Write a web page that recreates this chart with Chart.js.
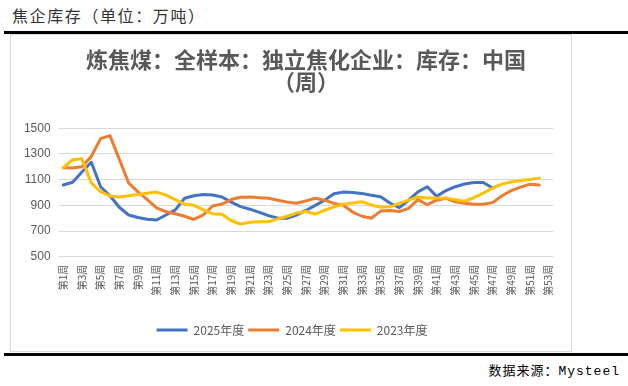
<!DOCTYPE html>
<html><head><meta charset="utf-8">
<script src="https://cdn.jsdelivr.net/npm/chart.js@4.4.1/dist/chart.umd.min.js"></script>
<style>
html,body{margin:0;padding:0;background:#fff;}
body{width:628px;height:386px;position:relative;overflow:hidden;font-family:"Noto Sans CJK SC",sans-serif;}
#hdr{position:absolute;left:12px;top:3px;font-size:16px;letter-spacing:1.6px;color:#333;line-height:24px;}
.rule{position:absolute;left:4px;right:0;height:3px;background:#000;}
#box{position:absolute;left:10px;top:34px;width:560px;height:316px;border:1px solid #d9d9d9;}
#wrap{position:absolute;left:10px;top:34px;width:562px;height:318px;}
#src{position:absolute;right:8px;top:362px;font-size:13px;letter-spacing:1px;color:#000;font-family:"Liberation Mono","Noto Sans CJK SC",monospace;line-height:20px;}
</style></head>
<body>
<div id="hdr">焦企库存（单位：万吨）</div>
<div class="rule" style="top:31px"></div>
<div id="box"></div>
<div id="wrap"><canvas id="c" width="562" height="318"></canvas></div>
<div class="rule" style="top:353px"></div>
<div id="src">数据来源：Mysteel</div>
<script>
const weeks = ["第1周","第2周","第3周","第4周","第5周","第6周","第7周","第8周","第9周","第10周",
"第11周","第12周","第13周","第14周","第15周","第16周","第17周","第18周","第19周","第20周",
"第21周","第22周","第23周","第24周","第25周","第26周","第27周","第28周","第29周","第30周",
"第31周","第32周","第33周","第34周","第35周","第36周","第37周","第38周","第39周","第40周",
"第41周","第42周","第43周","第44周","第45周","第46周","第47周","第48周","第49周","第50周",
"第51周","第52周","第53周"];
const seriesNames = ["2025年度","2024年度","2023年度"];
const y2025 = [1058,1080,1160,1235,1045,975,885,825,805,792,
786,825,865,955,975,985,980,965,925,890,
870,845,820,800,800,825,860,900,940,990,
1003,1000,993,978,967,918,882,940,1005,1045,
970,1015,1045,1066,1078,1078,1035];
const y2024 = [1193,1190,1200,1280,1420,1443,1260,1075,1005,945,
880,850,835,815,790,825,895,910,945,963,
965,960,955,940,925,916,935,955,940,915,
900,848,815,800,855,860,852,876,945,905,
940,955,928,916,908,908,921,975,1015,1042,
1065,1058];
const y2023 = [1193,1255,1262,1075,1006,973,965,975,985,995,
1003,980,945,910,900,865,835,830,780,755,
768,773,773,795,815,840,852,832,862,888,
908,918,928,903,885,889,915,940,965,958,
958,958,943,932,960,995,1035,1065,1082,1093,
1102,1112];
const yTicks = [500,700,900,1100,1300,1500];
const colors = ["#4472C4","#ED7D31","#FFC000"];
const fam = '"Noto Sans CJK SC","Noto Sans",sans-serif';

const mk = (i, data, order) => ({
  label: seriesNames[i], data, borderColor: colors[i], backgroundColor: colors[i],
  borderWidth: 3, pointRadius: 0, tension: 0, order,
  borderJoinStyle: 'round', borderCapStyle: 'round', fill: false
});

const shiftLegend = {
  id: 'shiftLegend',
  afterLayout(chart) {
    const l = chart.legend; if (!l) return;
    const dx = 10.4; l.left += dx; l.right += dx;
  }
};

new Chart(document.getElementById('c'), {
  type: 'line',
  data: { labels: weeks, datasets: [mk(0,y2025,2), mk(1,y2024,1), mk(2,y2023,0)] },
  plugins: [shiftLegend],
  options: {
    responsive: false, animation: false, devicePixelRatio: 1,
    layout: { padding: { left: 0, right: 18.7, top: 0, bottom: 6 } },
    scales: {
      x: {
        offset: true,
        grid: { display: false, drawTicks: false },
        border: { display: false },
        ticks: {
          autoSkip: false, maxRotation: 90, minRotation: 90, padding: 8,
          color: '#595959', font: { size: 10, family: fam },
          callback: function(v, i) { return i % 2 === 0 ? weeks[i] : ''; }
        },
        afterFit: s => { s.height = 63.3; }
      },
      y: {
        min: yTicks[0], max: yTicks[yTicks.length-1],
        afterBuildTicks: s => { s.ticks = yTicks.map(v => ({ value: v })); },
        grid: { color: '#d9d9d9', drawTicks: false, lineWidth: 1 },
        border: { display: false },
        ticks: { padding: 8, color: '#595959', font: { size: 12, family: '"Liberation Sans",' + fam },
          callback: v => String(v) },
        afterFit: s => { s.width = 48.6; }
      }
    },
    plugins: {
      tooltip: { enabled: false },
      title: {
        display: true, fullSize: false,
        text: ['炼焦煤：全样本：独立焦化企业：库存：中国', '（周）'],
        color: '#595959',
        font: { size: 22, weight: 'bold', family: fam, lineHeight: 1.0 },
        padding: { top: 15, bottom: 35.3 }
      },
      legend: {
        position: 'bottom', fullSize: true,
        labels: {
          boxWidth: 31, boxHeight: 3, padding: 4, color: '#595959',
          font: { size: 12, family: fam },
          sort: (a, b) => a.datasetIndex - b.datasetIndex,
          generateLabels(chart) {
            const items = Chart.defaults.plugins.legend.labels.generateLabels(chart);
            items.forEach(it => { it.lineWidth = 0; it.fillStyle = it.strokeStyle; });
            return items;
          }
        }
      }
    }
  }
});
</script>
</body></html>
